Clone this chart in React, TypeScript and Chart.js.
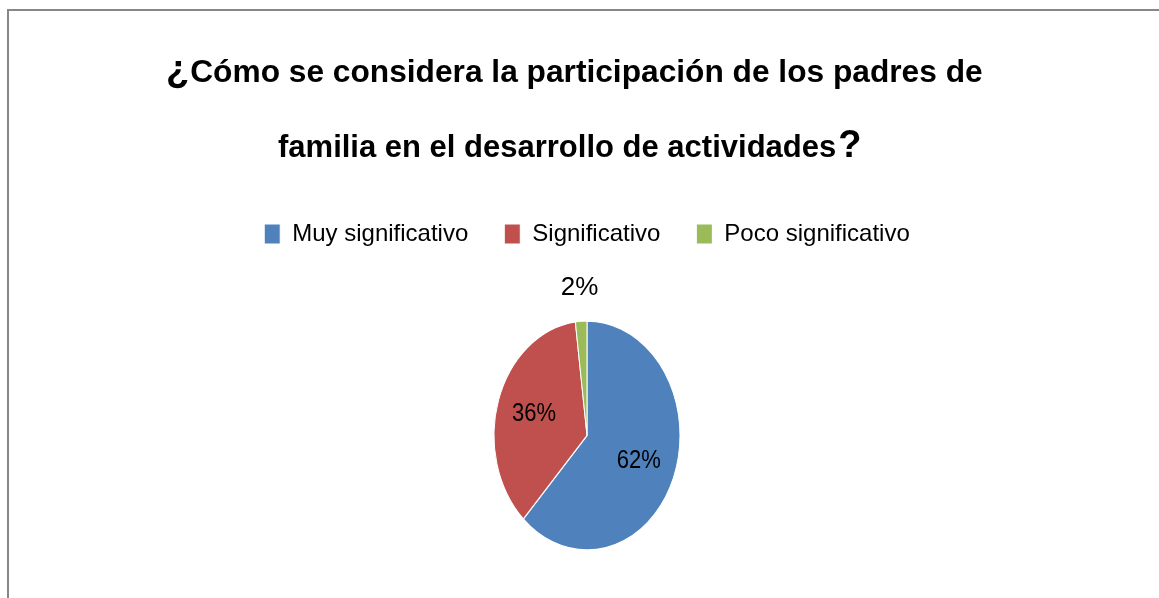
import React, { useEffect, useRef } from 'react';
import { Chart, registerables } from 'chart.js';

Chart.register(...registerables);

// ---- data ----
const categories = ['Muy significativo', 'Significativo', 'Poco significativo'];
const values = [62, 36, 2];
const colors = ['#4F81BD', '#C0504D', '#9BBB59'];

const titleOpen = '¿';
const titleLine1 = 'Cómo se considera la participación de los padres de';
const titleLine2 = 'familia en el desarrollo de actividades';
const titleClose = '?';

// ---- layout / style ----
const FONT = "'Liberation Sans', Arial, sans-serif";
const W = 1174;
const H = 640;
const SY = 1.231; // vertical stretch of the pie picture
const LABEL_SY = 1.15;

const framePlugin = {
  id: 'frame',
  beforeDraw(chart: any) {
    const ctx = chart.ctx;
    ctx.save();
    ctx.fillStyle = '#ffffff';
    ctx.fillRect(0, 0, chart.width, chart.height);
    ctx.fillStyle = '#878787';
    ctx.fillRect(7, 9, 2, chart.height);
    ctx.fillRect(7, 9, chart.width, 2);
    ctx.restore();
  },
};

const titlePlugin = {
  id: 'titleText',
  afterDraw(chart: any) {
    const ctx = chart.ctx;
    ctx.save();
    ctx.fillStyle = '#000';
    ctx.textAlign = 'left';
    ctx.textBaseline = 'alphabetic';
    ctx.font = `bold 38px ${FONT}`;
    ctx.fillText(titleOpen, 166, 82);
    const w0 = ctx.measureText(titleOpen).width;
    ctx.font = `bold 31.7px ${FONT}`;
    ctx.fillText(titleLine1, 166 + w0 + 1, 82);
    ctx.font = `bold 31px ${FONT}`;
    ctx.fillText(titleLine2, 278, 157);
    const w2 = ctx.measureText(titleLine2).width;
    ctx.font = `bold 38px ${FONT}`;
    ctx.fillText(titleClose, 278 + w2 + 2, 157);
    ctx.restore();
  },
};

const ellipsePlugin = {
  id: 'ellipse',
  beforeDatasetsDraw(chart: any) {
    const meta = chart.getDatasetMeta(0);
    const arc = meta.data[0];
    const ctx = chart.ctx;
    ctx.save();
    ctx.translate(arc.x, arc.y);
    ctx.scale(1, SY);
    ctx.translate(-arc.x, -arc.y);
  },
  afterDatasetsDraw(chart: any) {
    const ctx = chart.ctx;
    ctx.restore();
    const meta = chart.getDatasetMeta(0);
    const total = values.reduce((a, b) => a + b, 0);
    meta.data.forEach((arc: any, i: number) => {
      const { x, y, startAngle, endAngle, outerRadius } = arc.getProps(
        ['x', 'y', 'startAngle', 'endAngle', 'outerRadius'],
        true
      );
      const mid = (startAngle + endAngle) / 2;
      const frac = values[i] / total;
      const txt = Math.round(frac * 100) + '%';
      ctx.save();
      ctx.fillStyle = '#000';
      ctx.textAlign = 'center';
      ctx.textBaseline = 'middle';
      if (frac >= 0.05) {
        const r = outerRadius * 0.6;
        const lx = x + Math.cos(mid) * r;
        const ly = y + Math.sin(mid) * r * SY;
        ctx.translate(lx, ly);
        ctx.scale(1, LABEL_SY);
        ctx.font = `22px ${FONT}`;
        ctx.fillText(txt, 0, 0);
      } else {
        const r = outerRadius * 1.29;
        const lx = x + Math.cos(mid) * r;
        const ly = y + Math.sin(mid) * r * SY;
        ctx.font = `26px ${FONT}`;
        ctx.fillText(txt, lx, ly);
      }
      ctx.restore();
    });
  },
};

export default function App() {
  const ref = useRef<HTMLCanvasElement | null>(null);

  useEffect(() => {
    if (!ref.current) return;
    const chart = new Chart(ref.current, {
      type: 'pie',
      data: {
        labels: categories,
        datasets: [
          {
            data: values,
            backgroundColor: colors,
            borderColor: '#ffffff',
            borderWidth: 1,
            radius: 93,
          } as any,
        ],
      },
      options: {
        responsive: false,
        animation: false,
        events: [],
        layout: { padding: { top: 186, bottom: 25, left: 0, right: 0 } },
        plugins: {
          legend: {
            display: true,
            position: 'top',
            labels: {
              boxWidth: 16,
              boxHeight: 20,
              padding: 36,
              color: '#000',
              font: { size: 24, family: FONT },
            },
          },
          title: { display: false },
          tooltip: { enabled: false },
        },
      } as any,
      plugins: [framePlugin, ellipsePlugin, titlePlugin],
    });
    return () => chart.destroy();
  }, []);

  return (
    <div
      style={{
        position: 'absolute',
        left: 0,
        top: 0,
        width: 1159,
        height: 598,
        overflow: 'hidden',
        background: '#fff',
      }}
    >
      <canvas ref={ref} width={W} height={H} style={{ display: 'block', width: W, height: H }} />
    </div>
  );
}
